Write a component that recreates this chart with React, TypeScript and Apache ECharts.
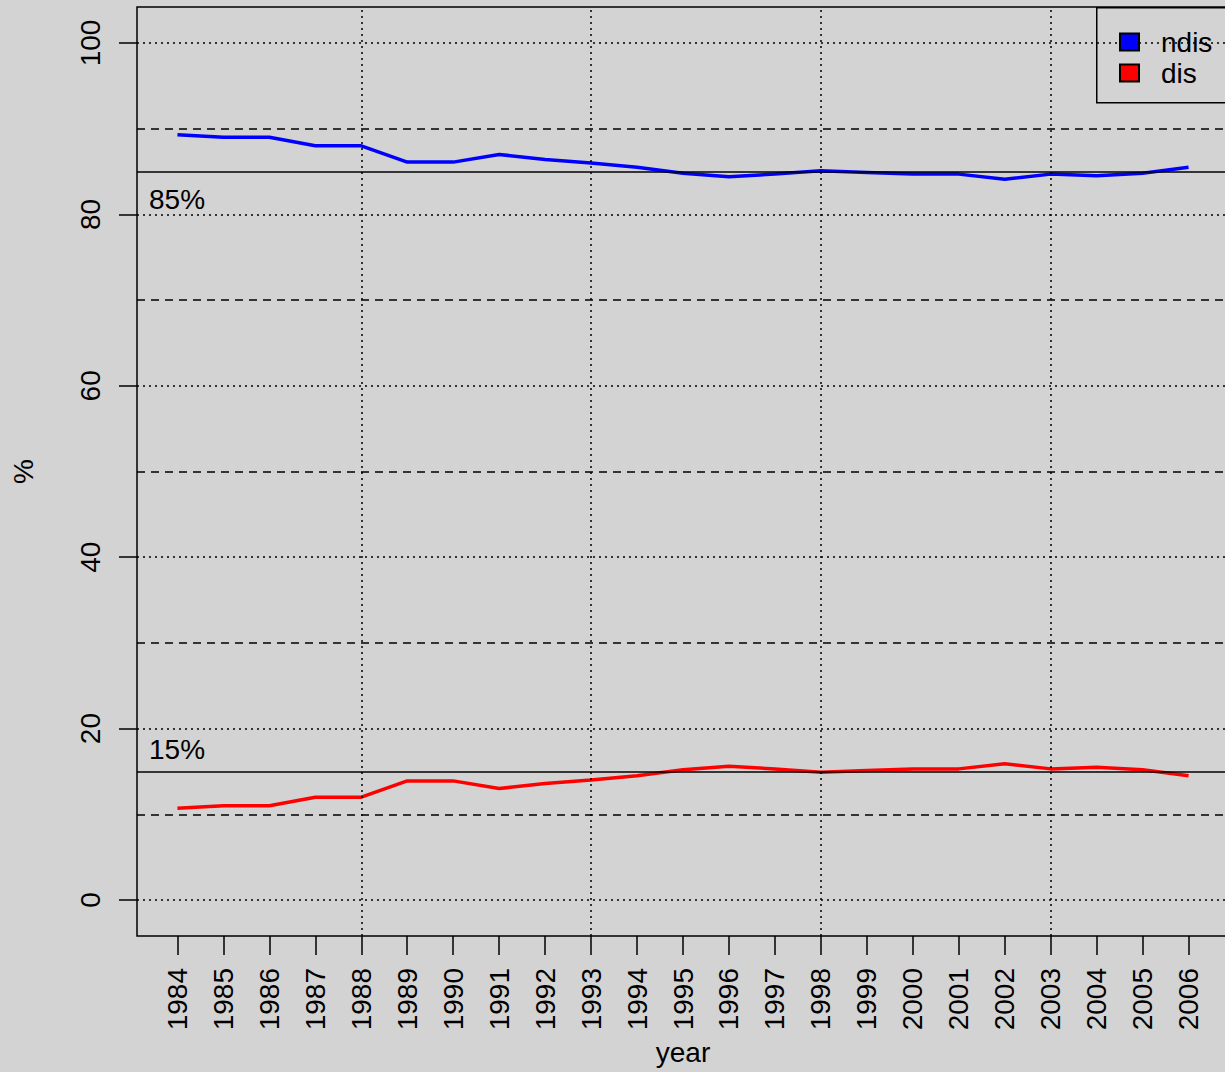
import React, { useEffect, useRef } from 'react';
import * as echarts from 'echarts';

const years = [1984, 1985, 1986, 1987, 1988, 1989, 1990, 1991, 1992, 1993, 1994, 1995, 1996, 1997, 1998, 1999, 2000, 2001, 2002, 2003, 2004, 2005, 2006];
const ndis = [89.3, 89.0, 89.0, 88.0, 88.0, 86.1, 86.1, 87.0, 86.4, 86.0, 85.5, 84.8, 84.4, 84.7, 85.1, 84.9, 84.7, 84.7, 84.1, 84.7, 84.5, 84.8, 85.5];
const dis = [10.7, 11.0, 11.0, 12.0, 12.0, 13.9, 13.9, 13.0, 13.6, 14.0, 14.5, 15.2, 15.6, 15.3, 14.9, 15.1, 15.3, 15.3, 15.9, 15.3, 15.5, 15.2, 14.5];
const yTicks = [0, 20, 40, 60, 80, 100];
const dottedY = [0, 20, 40, 60, 80, 100];
const dashedY = [10, 30, 50, 70, 90];
const dottedX = [1988, 1993, 1998, 2003];
const refLines = [85, 15];
const refLabels = ['85%', '15%'];

const FONT = 'Liberation Sans, Arial, Helvetica, sans-serif';

export default function App() {
  const ref = useRef<HTMLDivElement>(null);
  useEffect(() => {
    if (!ref.current) return;
    const chart = echarts.init(ref.current, undefined, { renderer: 'svg' });
    const black = '#000000';
    const markData: any[] = [];
    dottedY.forEach((v) => markData.push({ yAxis: v, lineStyle: { type: [2, 4], width: 1.5, color: black } }));
    dashedY.forEach((v) => markData.push({ yAxis: v, lineStyle: { type: [8, 6], width: 1.5, color: black } }));
    dottedX.forEach((v) => markData.push({ xAxis: v, lineStyle: { type: [2, 4], width: 1.5, color: black } }));
    refLines.forEach((v, i) =>
      markData.push({
        yAxis: v,
        lineStyle: { type: 'solid', width: 1.5, color: black },
        label: {
          show: true,
          formatter: refLabels[i],
          position: i === 0 ? 'insideStartBottom' : 'insideStartTop',
          distance: i === 0 ? [12, 14] : [12, 8],
          fontSize: 28,
          fontFamily: FONT,
          color: black,
        },
      })
    );
    chart.setOption({
      animation: false,
      backgroundColor: '#d3d3d3',
      textStyle: { fontFamily: FONT },
      grid: {
        left: 137,
        top: 7,
        width: 1092,
        height: 929,
        show: true,
        borderColor: black,
        borderWidth: 1.5,
        backgroundColor: 'transparent',
        containLabel: false,
        outerBoundsMode: 'none',
      },
      legend: {
        data: ['ndis', 'dis'],
        orient: 'vertical',
        left: 1119,
        top: 28,
        itemWidth: 19,
        itemHeight: 17,
        itemGap: 3,
        icon: 'rect',
        padding: 0,
        z: 20,
        textStyle: { fontSize: 28, fontFamily: FONT, color: black, padding: [0, 0, 0, 17], lineHeight: 28 },
      },
      graphic: [
        {
          type: 'rect',
          left: 1096,
          top: 7,
          shape: { x: 0, y: 0, width: 200, height: 95 },
          style: { fill: '#d3d3d3', stroke: black, lineWidth: 1.5 },
          z: 5,
        },
      ],
      xAxis: {
        type: 'value',
        min: 1983.12,
        max: 2006.88,
        name: 'year',
        nameLocation: 'middle',
        nameGap: 100,
        nameTextStyle: { fontSize: 28, fontFamily: FONT, color: black },
        axisLine: { show: false, onZero: false },
        splitLine: { show: false },
        axisTick: { show: true, customValues: years, length: 19, lineStyle: { color: black, width: 1.5 } },
        axisLabel: {
          customValues: years,
          rotate: 90,
          fontSize: 28,
          fontFamily: FONT,
          color: black,
          margin: 32,
          formatter: (v: number) => String(Math.round(v)),
        },
      },
      yAxis: {
        type: 'value',
        min: -4.2,
        max: 104.2,
        name: '%',
        nameLocation: 'middle',
        nameGap: 100,
        nameRotate: 90,
        nameTextStyle: { fontSize: 28, fontFamily: FONT, color: black },
        axisLine: { show: false, onZero: false },
        splitLine: { show: false },
        axisTick: { show: true, customValues: yTicks, length: 18, lineStyle: { color: black, width: 1.5 } },
        axisLabel: {
          customValues: yTicks,
          rotate: 90,
          fontSize: 28,
          fontFamily: FONT,
          color: black,
          margin: 33,
          formatter: (v: number) => String(Math.round(v)),
        },
      },
      series: [
        {
          name: 'gridlines',
          type: 'line',
          data: [],
          z: 1,
          silent: true,
          markLine: { silent: true, symbol: 'none', label: { show: false }, data: markData },
        },
        {
          name: 'ndis',
          type: 'line',
          data: years.map((y, i) => [y, ndis[i]]),
          showSymbol: false,
          symbol: 'none',
          z: 3,
          lineStyle: { color: '#0000ff', width: 3.5 },
          itemStyle: { color: '#0000ff', borderColor: black, borderWidth: 1.5 },
        },
        {
          name: 'dis',
          type: 'line',
          data: years.map((y, i) => [y, dis[i]]),
          showSymbol: false,
          symbol: 'none',
          z: 3,
          lineStyle: { color: '#ff0000', width: 3.5 },
          itemStyle: { color: '#ff0000', borderColor: black, borderWidth: 1.5 },
        },
      ],
    });
    return () => chart.dispose();
  }, []);
  return <div ref={ref} style={{ position: 'fixed', left: 0, top: 0, width: 1225, height: 1072 }} />;
}
